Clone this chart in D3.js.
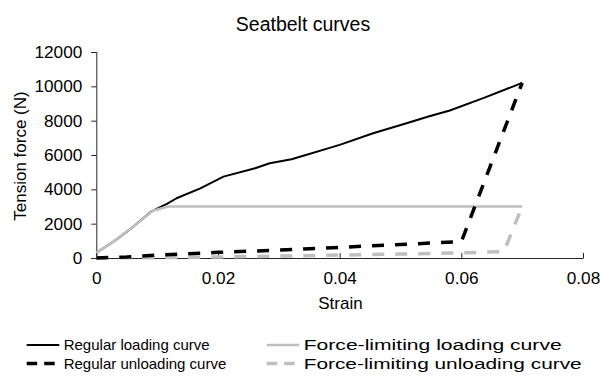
<!DOCTYPE html>
<html><head><meta charset="utf-8">
<script src="https://cdn.jsdelivr.net/npm/d3@7"></script>
<style>body{margin:0;background:#fff}svg{display:block;font-family:"Liberation Sans",Arial,sans-serif}</style>
</head><body><svg id="c" width="600" height="382"></svg>
<script>
const xTicks = [0, 0.02, 0.04, 0.06, 0.08];
const yTicks = [0, 2000, 4000, 6000, 8000, 10000, 12000];
const regularLoadingStrain = [0, 0.003, 0.006, 0.009, 0.0116, 0.0132, 0.0171, 0.0209, 0.0261, 0.0285, 0.0321, 0.040, 0.0455, 0.051, 0.0546, 0.0581, 0.0636, 0.07];
const regularLoadingForce  = [300, 1000, 1800, 2700, 3150, 3480, 4060, 4740, 5230, 5520, 5750, 6590, 7270, 7850, 8240, 8590, 9310, 10200];
const limitLoadingStrain = [0, 0.003, 0.006, 0.0093, 0.0118, 0.07];
const limitLoadingForce  = [300, 1000, 1800, 2750, 3000, 3000];
const regularUnloadingStrain = [0, 0.005, 0.01, 0.015, 0.02, 0.03, 0.04, 0.05, 0.06, 0.07];
const regularUnloadingForce  = [0, 60, 170, 250, 330, 460, 620, 790, 950, 10200];
const limitUnloadingStrain = [0, 0.01, 0.02, 0.03, 0.04, 0.05, 0.06, 0.067, 0.07];
const limitUnloadingForce  = [0, 20, 60, 110, 170, 230, 300, 370, 3000];
const seriesNames = ["Regular loading curve", "Force-limiting loading curve", "Regular unloading curve", "Force-limiting unloading curve"];

const svg = d3.select("#c");
const x = d3.scaleLinear().domain([0, 0.08]).range([96.3, 583]);
const y = d3.scaleLinear().domain([0, 12000]).range([258, 52]);

svg.append("text").attr("x", 303).attr("y", 31).attr("text-anchor", "middle")
  .attr("font-size", 19.5).attr("fill", "#000").text("Seatbelt curves");

// y axis
const ya = svg.append("g").attr("transform", "translate(96.3,0)")
  .call(d3.axisLeft(y).tickValues(yTicks).tickSize(5).tickPadding(9).tickFormat(d3.format("d")));
ya.selectAll("text").attr("font-size", 17.2).attr("fill", "#000").attr("font-family", "Liberation Sans, Arial, sans-serif");
ya.select(".domain").attr("stroke", "#262626");
ya.selectAll(".tick line").attr("stroke", "#262626");

// x axis
const xa = svg.append("g").attr("transform", "translate(0,258)")
  .call(d3.axisBottom(x).tickValues(xTicks).tickSizeInner(-5).tickSizeOuter(0).tickPadding(14).tickFormat(d => d === 0 ? "0" : d3.format(".2f")(d)));
xa.selectAll("text").attr("font-size", 17.2).attr("fill", "#000").attr("font-family", "Liberation Sans, Arial, sans-serif");
xa.select(".domain").attr("stroke", "#262626");
xa.selectAll(".tick line").attr("stroke", "#262626");

svg.append("text").attr("x", 340.5).attr("y", 309).attr("text-anchor", "middle")
  .attr("font-size", 17).attr("fill", "#000").text("Strain");
svg.append("text").attr("transform", "translate(26,156) rotate(-90)").attr("text-anchor", "middle")
  .attr("font-size", 17).attr("fill", "#000").text("Tension force (N)");

const line = d3.line().x(d => x(d[0])).y(d => y(d[1]));
const zip = (a, b) => a.map((v, i) => [v, b[i]]);
const styles = [
  {data: zip(regularLoadingStrain, regularLoadingForce), color: "#000", w: 2, dash: null},
  {data: zip(limitLoadingStrain, limitLoadingForce), color: "#bfbfbf", w: 2.5, dash: null},
  {data: zip(regularUnloadingStrain, regularUnloadingForce), color: "#000", w: 3.5, dash: "12,11"},
  {data: zip(limitUnloadingStrain, limitUnloadingForce), color: "#bfbfbf", w: 3.5, dash: "12,11"}
];
const drawOrder = [0, 1, 3, 2];
drawOrder.forEach(i => {
  const s = styles[i];
  svg.append("path").attr("d", line(s.data)).attr("fill", "none")
    .attr("stroke", s.color).attr("stroke-width", s.w)
    .attr("stroke-dasharray", s.dash).attr("stroke-linejoin", "round");
});

// legend
const legPos = [[26.7, 345], [266.7, 345], [26.7, 363.5], [266.7, 363.5]];
const legTextLen = [null, 258, null, 278];
const legFont = [15, 15.5, 15, 15.5];
styles.forEach((s, i) => {
  const [lx, ly] = legPos[i];
  svg.append("line").attr("x1", lx).attr("x2", lx + 32.6).attr("y1", ly).attr("y2", ly)
    .attr("stroke", s.color).attr("stroke-width", s.w)
    .attr("stroke-dasharray", s.dash ? "10.5,7" : null);
  const t = svg.append("text").attr("x", lx + 37).attr("y", ly).attr("dy", "0.35em")
    .attr("font-size", legFont[i]).attr("fill", "#000").text(seriesNames[i]);
  if (legTextLen[i]) t.attr("textLength", legTextLen[i]).attr("lengthAdjust", "spacingAndGlyphs");
});
</script></body></html>
